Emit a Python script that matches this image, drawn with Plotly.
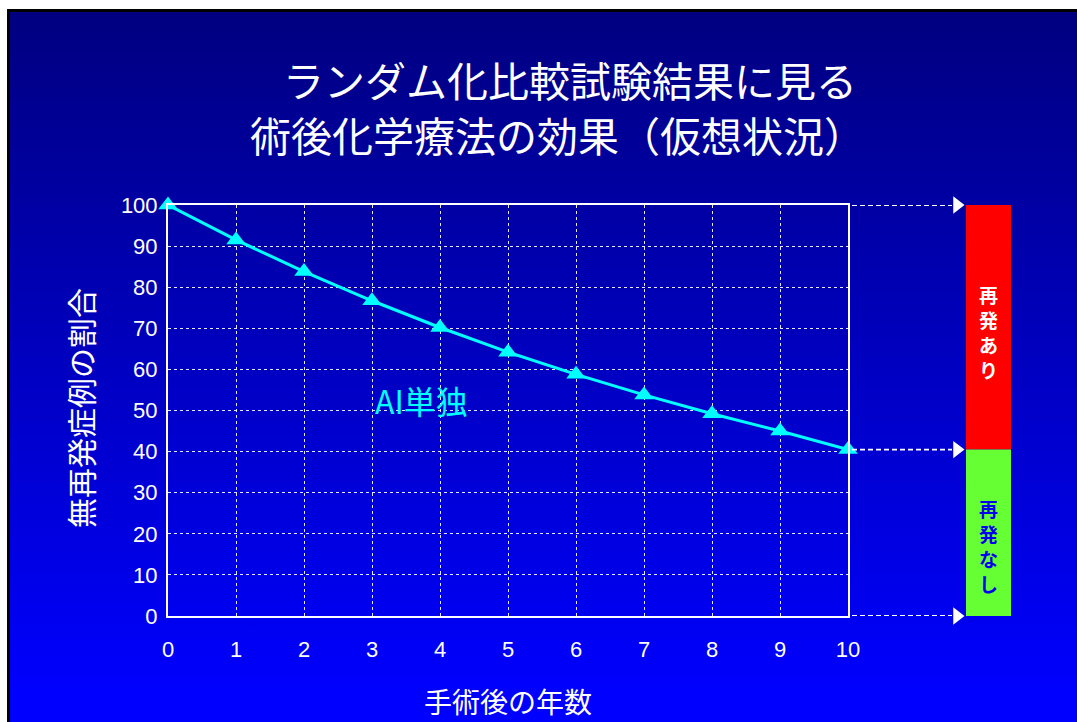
import base64
import plotly.graph_objects as go

# ---- data -------------------------------------------------------------
years = [0, 1, 2, 3, 4, 5, 6, 7, 8, 9, 10]
dfs_ai_alone = [100, 91.5, 83.8, 76.7, 70.2, 64.2, 58.8, 53.8, 49.2, 45.0, 40.5]
x_ticks = [0, 1, 2, 3, 4, 5, 6, 7, 8, 9, 10]
y_ticks = [0, 10, 20, 30, 40, 50, 60, 70, 80, 90, 100]
series_name = "AI単独"
title_lines = ["ランダム化比較試験結果に見る", "術後化学療法の効果（仮想状況）"]
x_title = "手術後の年数"
y_title = "無再発症例の割合"
bar_labels = ["再発あり", "再発なし"]

# ---- layout helpers (page is 1077 x 722, zero margins) -----------------
W, H = 1077, 722


def px_x(p):
    return p / W


def px_y(p):
    return 1 - p / H


JP = "Noto Sans CJK JP, Liberation Sans, sans-serif"
NUM = "Liberation Sans, Arial, sans-serif"

# gradient slide background with a thin black frame
svg = f"""<svg xmlns='http://www.w3.org/2000/svg' width='{W}' height='{H}' preserveAspectRatio='none'>
<defs><linearGradient id='g' x1='0' y1='0' x2='0' y2='1'>
<stop offset='0' stop-color='#000080'/><stop offset='0.95' stop-color='#0000ff'/>
<stop offset='1' stop-color='#0000ff'/></linearGradient></defs>
<rect x='0' y='0' width='{W}' height='{H}' fill='white'/>
<rect x='7' y='9' width='{W}' height='{H}' fill='black'/>
<rect x='10' y='12' width='{W}' height='{H}' fill='url(#g)'/>
</svg>"""
bg_src = "data:image/svg+xml;base64," + base64.b64encode(svg.encode()).decode()

fig = go.Figure()

# survival curve
fig.add_trace(go.Scatter(
    x=years, y=dfs_ai_alone, mode="lines+markers",
    line=dict(color="#00ffff", width=3),
    marker=dict(symbol="triangle-up", size=17, color="#00ffff"),
    cliponaxis=False, showlegend=False, hoverinfo="skip",
))

# outcome split at 10 years: relapse (red) vs. relapse-free (green)
final = dfs_ai_alone[-1]
bar_x0, bar_x1 = 966, 1011
fig.add_shape(type="rect", xref="x3", yref="y2", x0=bar_x0, x1=bar_x1,
              y0=final, y1=100, fillcolor="#ff0000", line_width=0, layer="above")
fig.add_shape(type="rect", xref="x3", yref="y2", x0=bar_x0, x1=bar_x1,
              y0=0, y1=final, fillcolor="#66ff33", line_width=0, layer="above")

# dashed guide arrows from the plot frame to the bar
arrow_levels = [100, final, 0]
for lvl in arrow_levels:
    fig.add_trace(go.Scatter(
        x=[852, 952], y=[lvl, lvl], xaxis="x3", yaxis="y2", mode="lines",
        line=dict(color="white", width=1.8, dash="5px,3px"),
        cliponaxis=False, showlegend=False, hoverinfo="skip",
    ))
fig.add_trace(go.Scatter(
    x=[957] * len(arrow_levels), y=arrow_levels, xaxis="x3", yaxis="y2",
    mode="markers", marker=dict(symbol="triangle-right", size=15, color="white"),
    cliponaxis=False, showlegend=False, hoverinfo="skip",
))

annotations = [
    dict(text=title_lines[0], x=px_x(570), y=px_y(79), xref="paper",
         yref="paper", showarrow=False, xanchor="center", yanchor="middle",
         font=dict(family=JP, size=41, color="white")),
    dict(text=title_lines[1], x=px_x(557), y=px_y(134), xref="paper",
         yref="paper", showarrow=False, xanchor="center", yanchor="middle",
         font=dict(family=JP, size=41, color="white")),
    dict(text=x_title, x=px_x(508), y=px_y(701), xref="paper", yref="paper",
         showarrow=False, xanchor="center", yanchor="middle",
         font=dict(family=JP, size=28, color="white")),
    dict(text=y_title, x=px_x(80), y=px_y(408), xref="paper", yref="paper",
         showarrow=False, textangle=-90, xanchor="center", yanchor="middle",
         font=dict(family=JP, size=30, color="white")),
    dict(text=series_name, x=px_x(421), y=px_y(400), xref="paper", yref="paper",
         showarrow=False, xanchor="center", yanchor="middle",
         font=dict(family=JP, size=32, color="#00ffff")),
]

# vertical (stacked) labels inside the outcome bar, one glyph per annotation
label_styles = [(294, "white"), (508, "#0000ee")]
for label, (top_px, color) in zip(bar_labels, label_styles):
    for i, ch in enumerate(label):
        annotations.append(dict(
            text=ch, x=px_x(988.5), y=px_y(top_px + 25 * i), xref="paper",
            yref="paper", showarrow=False, xanchor="center", yanchor="middle",
            font=dict(family=JP, size=19, color=color, weight="bold"),
        ))

axis_common = dict(
    showline=True, linecolor="white", linewidth=2, mirror=True,
    showgrid=True, gridcolor="rgba(255,255,255,0.9)", gridwidth=1, griddash="dot",
    zeroline=False, ticks="", automargin=False,
    tickfont=dict(family=NUM, size=22, color="white"),
)
plot_top, plot_bottom = 205, 616

fig.update_layout(
    width=W, height=H,
    margin=dict(l=0, r=0, t=0, b=0, pad=0, autoexpand=False),
    paper_bgcolor="white", plot_bgcolor="rgba(0,0,0,0)",
    images=[dict(source=bg_src, xref="paper", yref="paper", x=0, y=1,
                 sizex=1, sizey=1, sizing="stretch", xanchor="left",
                 yanchor="top", layer="below")],
    xaxis=dict(domain=[px_x(168), px_x(848)], range=[0, 10], tickvals=x_ticks,
               ticklabelstandoff=13, anchor="y", **axis_common),
    yaxis=dict(domain=[px_y(plot_bottom), px_y(plot_top)], range=[0, 100],
               tickvals=y_ticks, ticklabelstandoff=4, anchor="x", **axis_common),
    # pixel-unit helper axes for the bar and guide arrows on the right
    xaxis3=dict(domain=[0, 1], range=[0, W], visible=False, anchor="y2",
                automargin=False, showgrid=False),
    yaxis2=dict(domain=[px_y(plot_bottom), px_y(plot_top)], range=[0, 100],
                visible=False, anchor="x3", automargin=False, showgrid=False),
    annotations=annotations,
    showlegend=False,
)

fig.write_html("out.html")
